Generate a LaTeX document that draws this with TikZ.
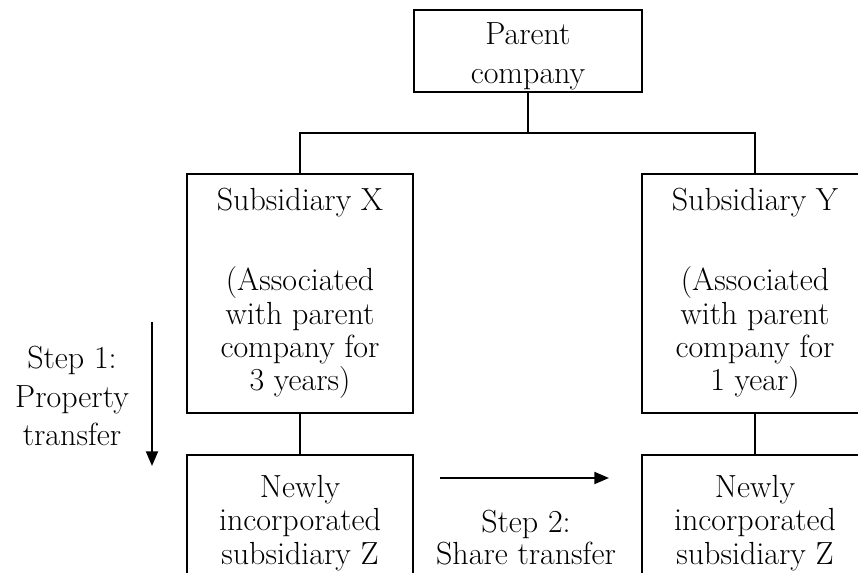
\documentclass[tikz,border=0pt]{standalone}
\usepackage{fontspec}
\usetikzlibrary{arrows.meta}
\begin{document}
\begin{tikzpicture}[x=0.75pt,y=-0.75pt,
  box/.style={draw,line width=1.5pt,align=center,inner sep=0pt,font=\fontsize{24}{25}\selectfont},
  conn/.style={line width=1.5pt},
  lbl/.style={align=center,inner sep=0pt},
  arr/.style={line width=1.5pt,-{Triangle[length=11pt,width=9pt]}}]
\path[use as bounding box] (0,0) rectangle (858,573);
\begin{scope}
\clip (0,0) rectangle (858,573);
\node[box,minimum width=171pt,minimum height=61.5pt] (parent) at (528,51) {};
\node[lbl,font=\fontsize{24}{29}\selectfont] (parenttext) at (528,56) {Parent\\company};
\node[box,minimum width=169.5pt,minimum height=179.25pt] (X) at (300,293.5)
  {Subsidiary X\\[35pt](Associated\\with parent\\company for\\3 years)};
\node[box,minimum width=169.5pt,minimum height=179.25pt] (Y) at (755,293.5)
  {Subsidiary Y\\[35pt](Associated\\with parent\\company for\\1 year)};
\node[box,minimum width=169.5pt,minimum height=102pt] (Z1) at (300,523)
  {Newly\\incorporated\\subsidiary Z};
\node[box,minimum width=169.5pt,minimum height=102pt] (Z2) at (755,523)
  {Newly\\incorporated\\subsidiary Z};
\coordinate (j) at (528,133);
\draw[conn] (parent.south) -- (j);
\draw[conn] (X.north) -- (X.north |- j) -- (Y.north |- j) -- (Y.north);
\draw[conn] (X.south) -- (Z1.north);
\draw[conn] (Y.south) -- (Z2.north);
\coordinate (s1a) at (152,322);
\coordinate (s1b) at (152,466);
\draw[arr] (s1a) -- (s1b);
\coordinate (s2a) at (440,478);
\coordinate (s2b) at (609,478);
\draw[arr] (s2a) -- (s2b);
\node[lbl,font=\fontsize{24}{29}\selectfont] (step1) at (72,396) {Step 1:\\Property\\transfer};
\node[lbl,font=\fontsize{24}{24}\selectfont] (step2) at (526,538) {Step 2:\\Share transfer};
\end{scope}
\end{tikzpicture}
\end{document}
